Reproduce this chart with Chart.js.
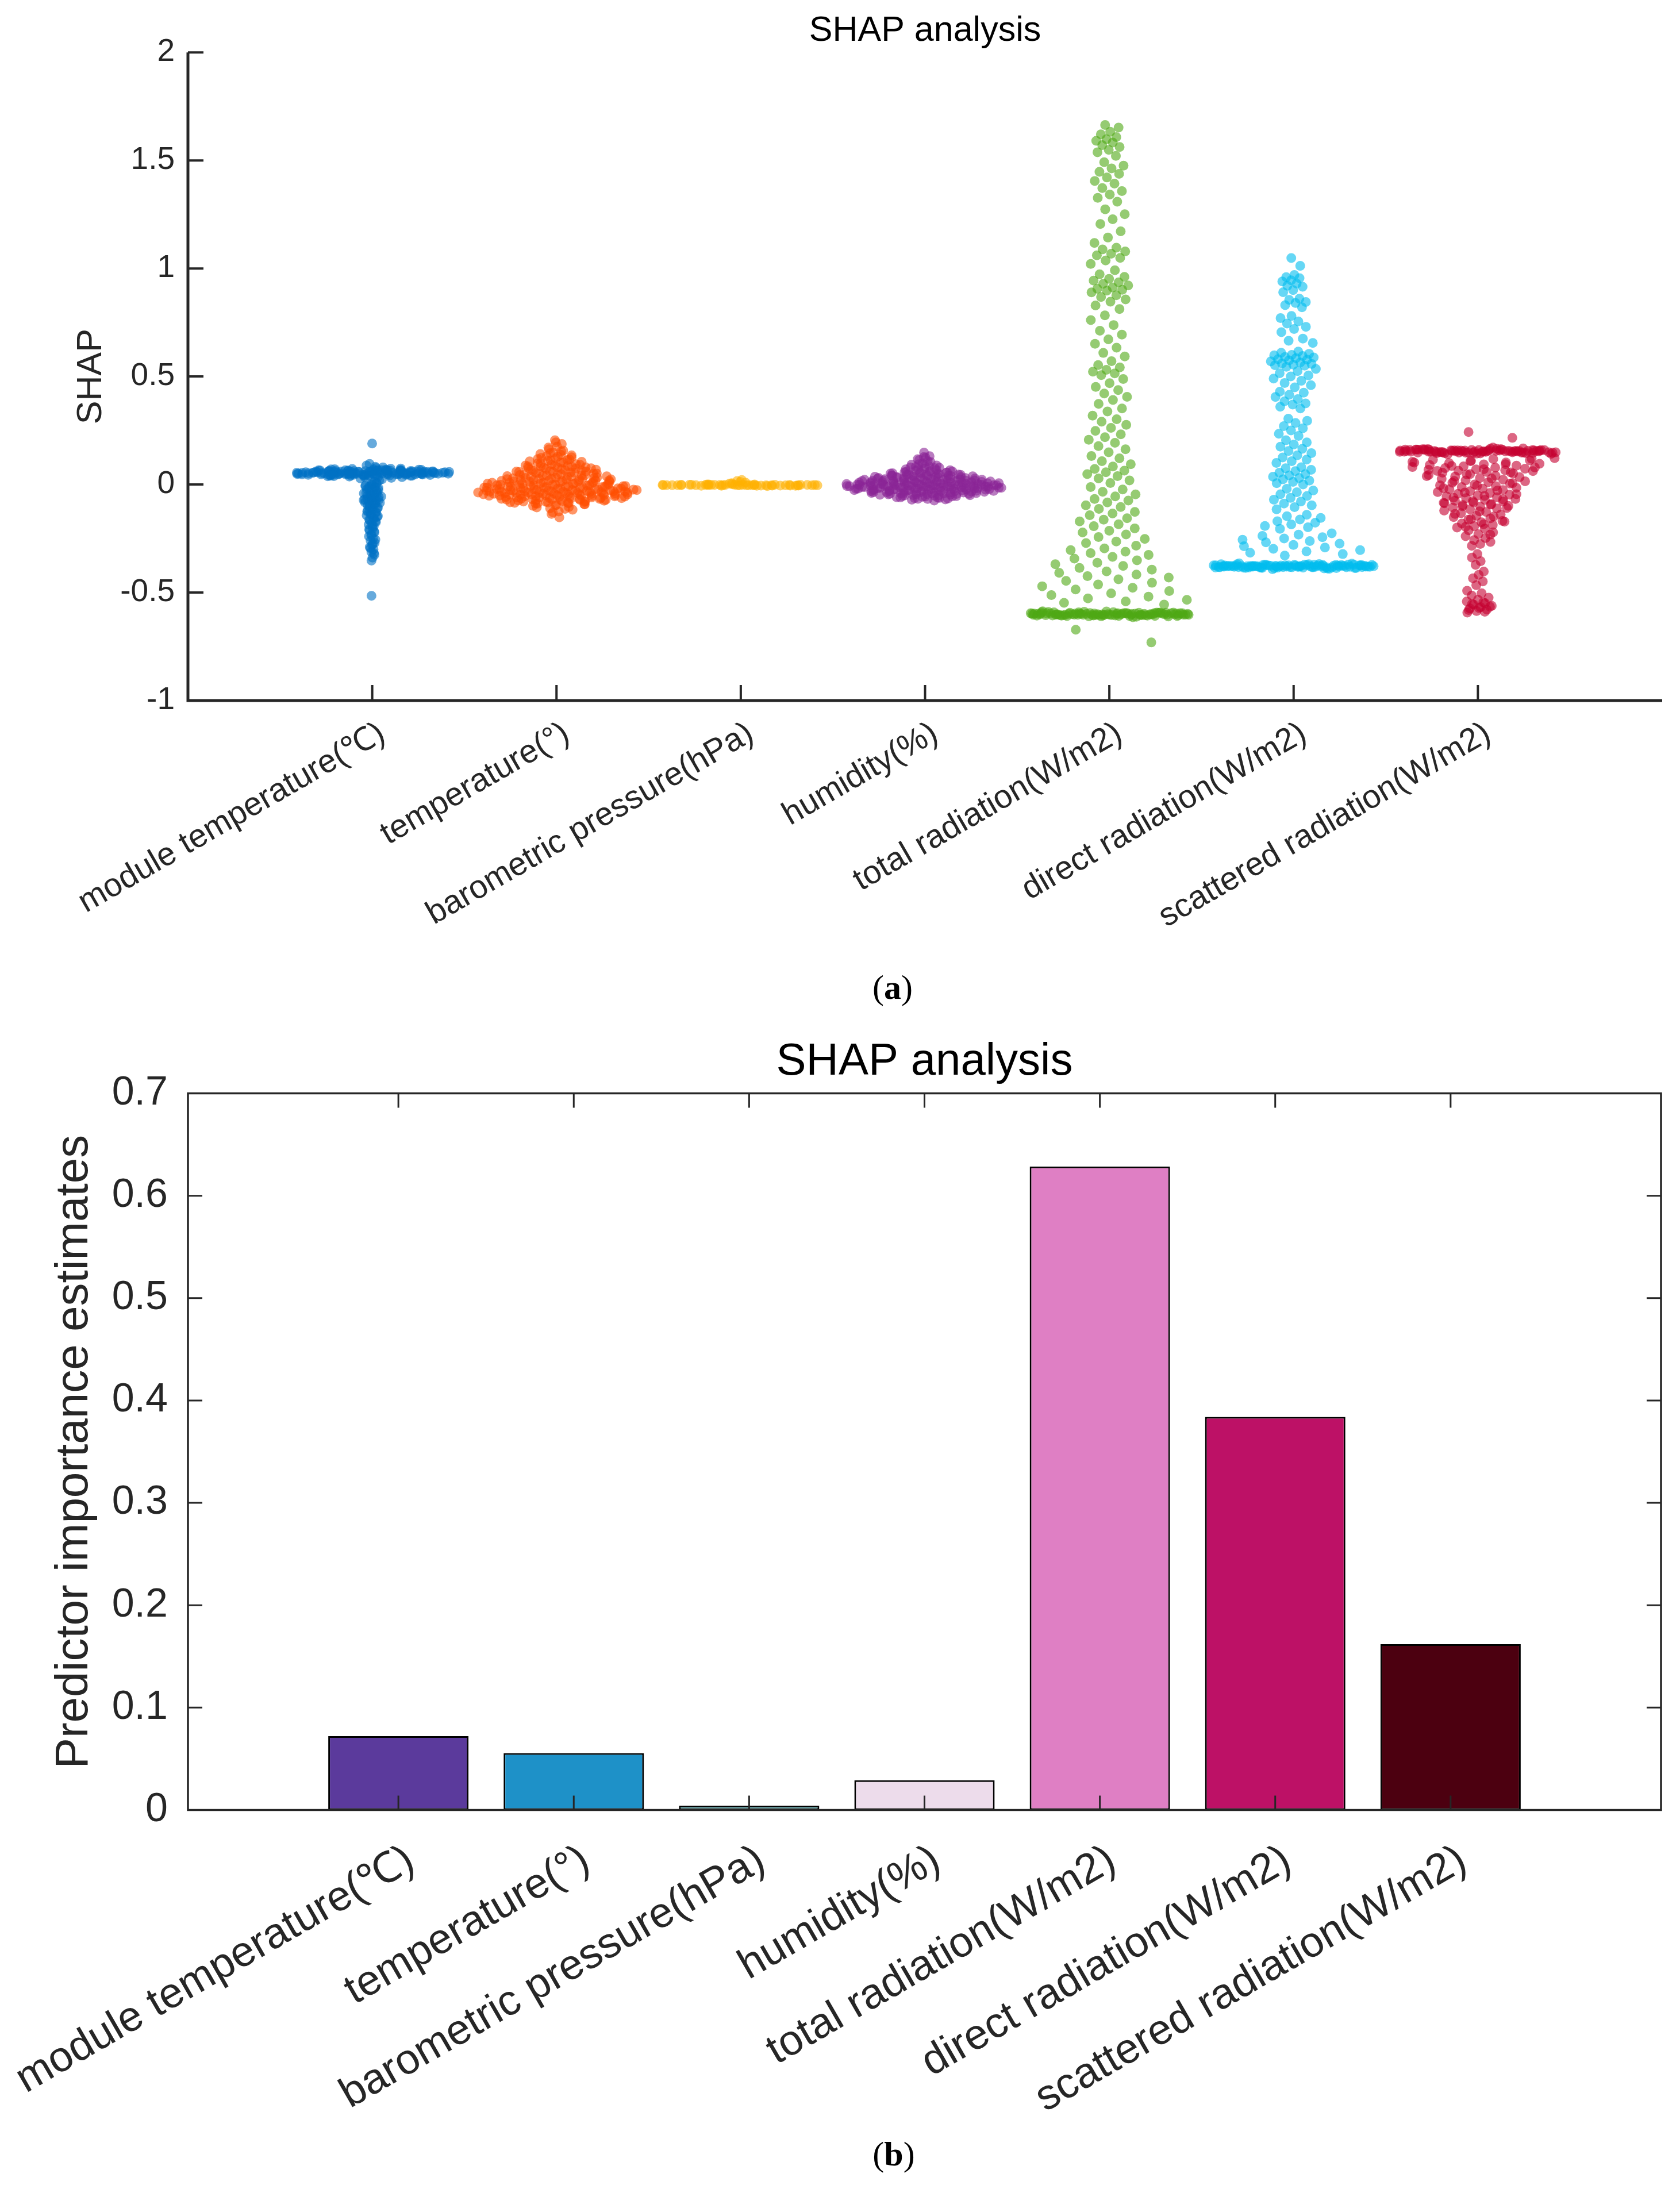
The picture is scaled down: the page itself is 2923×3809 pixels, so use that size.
<!DOCTYPE html>
<html>
<head>
<meta charset="utf-8">
<script src="https://cdn.jsdelivr.net/npm/chart.js@4.4.1/dist/chart.umd.min.js"></script>
<style>
  body { margin: 0; background: #fff; width: 2923px; height: 3809px; position: relative; overflow: hidden; }
  canvas { position: absolute; left: 0; }
  #shapSwarm { top: 0; }
  #shapBars { top: 1760px; }
  .panel-tag { position: absolute; font-family: "Liberation Serif", serif; font-size: 60px; color: #000; transform: translate(-50%, -50%); }
</style>
</head>
<body>
<canvas id="shapSwarm" width="2923" height="1650"></canvas>
<canvas id="shapBars" width="2923" height="1940"></canvas>
<div class="panel-tag" style="left:1553px; top:1718px">(<b>a</b>)</div>
<div class="panel-tag" style="left:1555px; top:3748px">(<b>b</b>)</div>
<script>
// feature names (x categories of both panels)
var features = ["module temperature(℃)", "temperature(°)", "barometric pressure(hPa)", "humidity(%)",
                "total radiation(W/m2)", "direct radiation(W/m2)", "scattered radiation(W/m2)"];

// SHAP values per sample
var shapModuleTemp = [
  0.052,0.061,0.043,0.057,0.068,0.035,0.049,0.055,0.072,0.046,0.058,0.039,0.064,0.051,0.044,0.076,0.053,0.06,0.041,0.066,
  0.048,0.056,0.031,0.07,0.054,0.045,0.062,0.05,0.082,0.037,0.059,0.047,0.065,0.053,0.042,0.074,0.056,0.028,0.063,0.05,
  0.045,0.069,0.058,0.04,0.055,0.088,0.048,0.061,0.034,0.067,0.052,0.057,0.044,0.071,0.05,0.06,0.024,0.064,0.047,0.079,
  0.054,0.038,0.066,0.049,0.058,0.043,0.095,0.053,0.062,0.019,
  0.051,0.063,0.047,0.058,0.055,0.042,0.066,0.053,0.049,0.06,0.057,0.045,0.069,0.052,0.059,0.048,0.062,0.054,0.046,0.065,
  0.05,0.058,0.044,0.061,0.053,0.047,0.066,0.055,0.041,0.059,0.052,0.064,0.048,0.057,0.036,0.062,0.051,0.045,0.07,0.054,
  0.049,0.06,0.043,0.056,0.073,0.05,0.058,0.046,0.063,0.053,0.039,0.057,0.061,0.048,0.055,0.067,0.044,0.052,0.059,0.05,
  0.065,0.047,0.054,0.062,0.041,0.056,0.051,0.068,0.058,0.045,
  0.008,0.003,-0.004,0.012,-0.01,-0.016,0.0,-0.022,
  -0.03,-0.036,-0.041,-0.047,-0.052,-0.058,-0.063,-0.069,-0.074,-0.08,-0.085,-0.091,-0.097,-0.034,-0.055,-0.072,-0.088,
  -0.103,-0.11,-0.117,-0.124,-0.131,-0.139,-0.146,-0.154,-0.162,-0.17,-0.178,-0.186,-0.194,-0.12,-0.15,
  -0.203,-0.212,-0.221,-0.23,-0.24,-0.25,-0.26,-0.27,-0.28,-0.29,
  -0.3,-0.312,-0.325,-0.338,-0.352,
  0.005,-0.002,-0.008,-0.013,-0.019,-0.026,-0.032,-0.039,-0.045,-0.05,-0.056,-0.061,-0.067,-0.071,-0.077,-0.083,-0.089,-0.094,
  -0.107,-0.114,-0.122,-0.128,-0.136,-0.143,-0.158,-0.166,-0.174,-0.19,-0.207,-0.218,-0.235,-0.255,-0.274,-0.295,-0.318,
  0.19,-0.515
];
var shapAirTemp = [
  0.205,0.188,0.176,0.163,0.157,0.148,0.141,0.137,0.132,0.126,0.121,0.118,0.113,0.109,0.105,0.101,
  0.098,0.094,0.093,0.088,0.086,0.083,0.08,0.079,0.076,0.074,0.072,0.069,0.066,0.063,0.061,
  0.059,0.058,0.055,0.052,0.051,0.048,0.045,0.043,0.041,0.039,0.037,0.036,0.033,0.032,0.029,0.028,0.026,0.024,0.023,0.021,
  0.019,0.018,0.017,0.015,0.013,0.012,0.01,0.009,0.007,0.005,0.004,0.002,0.001,
  -0.001,-0.002,-0.003,-0.005,-0.006,-0.008,-0.009,-0.01,-0.012,-0.013,-0.014,-0.015,-0.017,-0.018,-0.019,
  -0.021,-0.022,-0.023,-0.024,-0.025,-0.026,-0.027,-0.028,-0.029,-0.03,-0.031,-0.032,-0.033,-0.034,-0.035,-0.036,-0.037,-0.039,
  -0.04,-0.041,-0.042,-0.043,-0.044,-0.045,-0.046,-0.047,-0.048,-0.049,-0.05,-0.052,-0.053,-0.054,-0.055,-0.057,-0.058,
  -0.06,-0.061,-0.063,-0.064,-0.065,-0.067,-0.068,-0.07,-0.071,-0.073,-0.075,-0.077,-0.079,
  -0.081,-0.083,-0.085,-0.087,-0.089,-0.092,-0.095,-0.099,-0.104,-0.11,-0.117,-0.125,-0.136,-0.152,
  0.195,0.171,0.153,0.145,0.135,0.129,0.123,0.116,0.111,0.107,0.102,0.097,0.091,0.087,0.084,0.082,
  0.078,0.075,0.071,0.068,0.065,0.062,0.06,0.056,0.054,0.05,0.047,0.044,0.042,
  0.04,0.038,0.035,0.031,0.03,0.027,0.025,0.022,0.02,0.018,0.016,0.014,0.011,0.009,0.008,0.006,0.003,0.002,0.0,
  -0.001,-0.003,-0.004,-0.007,-0.008,-0.01,-0.011,-0.012,-0.014,-0.016,-0.017,-0.019,
  -0.02,-0.022,-0.023,-0.025,-0.026,-0.028,-0.029,-0.031,-0.032,-0.034,-0.035,-0.037,-0.038,-0.039,
  -0.04,-0.042,-0.043,-0.045,-0.046,-0.047,-0.049,-0.05,-0.051,-0.053,-0.055,-0.056,-0.058,
  -0.06,-0.062,-0.063,-0.066,-0.067,-0.069,-0.071,-0.072,-0.074,-0.077,
  -0.08,-0.082,-0.085,-0.088,-0.091,-0.096,-0.106,-0.113,-0.129
];
var shapPressure = [
  -0.003,-0.002,-0.004,-0.001,-0.005,-0.003,-0.002,-0.006,0.0,-0.004,-0.003,-0.001,-0.005,-0.002,-0.004,-0.003,-0.006,-0.002,0.001,-0.003,
  -0.004,-0.002,-0.005,-0.001,-0.003,-0.007,-0.002,-0.004,0.0,-0.003,-0.005,-0.001,-0.003,-0.004,-0.002,-0.006,-0.003,-0.001,-0.004,-0.002,
  -0.003,-0.005,0.0,-0.002,-0.004,-0.003,-0.001,-0.006,-0.002,-0.003,
  0.006,0.009,0.012,0.016,0.021,0.004
];
var shapHumidity = [
  0.148,0.131,0.124,0.113,0.104,0.097,0.092,0.086,0.081,0.078,0.074,0.07,0.067,0.064,0.061,
  0.059,0.057,0.055,0.054,0.051,0.049,0.047,0.046,0.044,0.042,0.041,
  0.039,0.038,0.037,0.035,0.034,0.033,0.031,0.03,0.029,0.028,0.026,0.025,0.024,0.023,0.022,0.021,
  0.019,0.019,0.018,0.017,0.016,0.015,0.014,0.013,0.012,0.011,0.01,0.009,0.008,0.007,0.006,0.005,0.005,0.004,0.003,0.002,0.001,0.0,
  -0.001,-0.001,-0.002,-0.003,-0.004,-0.004,-0.005,-0.006,-0.007,-0.007,-0.008,-0.009,-0.01,-0.011,-0.011,-0.012,-0.013,-0.014,-0.015,-0.015,-0.016,-0.017,-0.018,-0.019,-0.02,
  -0.021,-0.022,-0.022,-0.023,-0.024,-0.025,-0.026,-0.027,-0.028,-0.029,-0.03,-0.031,-0.032,-0.033,-0.034,-0.035,-0.036,-0.037,-0.038,-0.039,
  -0.041,-0.042,-0.043,-0.045,-0.046,-0.047,-0.049,-0.05,-0.052,-0.053,-0.055,-0.057,-0.059,
  -0.061,-0.063,-0.065,-0.067,-0.07,-0.074,
  0.127,0.117,0.108,0.094,0.088,0.083,0.079,0.076,0.072,0.066,0.062,
  0.058,0.056,0.053,0.052,0.05,0.048,0.045,0.043,0.04,
  0.039,0.036,0.036,0.034,0.032,0.03,0.029,0.027,0.026,0.024,0.022,0.02,
  0.019,0.018,0.017,0.016,0.014,0.013,0.012,0.011,0.01,0.008,0.007,0.006,0.004,0.003,0.002,0.001,0.0,
  -0.001,-0.002,-0.003,-0.004,-0.005,-0.006,-0.006,-0.007,-0.008,-0.009,-0.01,-0.011,-0.012,-0.013,-0.014,-0.015,-0.016,-0.017,-0.018,-0.019,
  -0.02,-0.021,-0.023,-0.024,-0.025,-0.026,-0.027,-0.028,-0.03,-0.031,-0.032,-0.033,-0.035,-0.036,-0.037,-0.039,
  -0.04,-0.041,-0.043,-0.044,-0.046,-0.048,-0.05,-0.051,-0.054,-0.056,
  -0.06,-0.062,-0.066,-0.069
];
var shapTotalRad = [
  1.664,1.652,1.633,1.621,1.608,1.598,1.591,1.583,1.571,1.562,1.549,1.538,1.521,
  1.492,1.476,1.463,1.447,1.438,1.421,1.405,1.393,1.372,1.358,1.342,1.327,1.309,
  1.274,1.251,1.228,1.206,1.172,1.143,1.118,
  1.096,1.088,1.079,1.068,1.061,1.049,1.037,1.021,
  0.992,0.973,0.961,0.952,0.944,0.936,0.929,0.921,0.912,0.906,0.901,0.897,
  0.889,0.876,0.868,0.857,0.846,0.829,0.812,0.783,0.761,0.738,0.712,
  0.694,0.672,0.651,0.633,0.609,0.593,0.571,0.553,0.542,0.531,0.522,0.514,0.506,
  0.488,0.469,0.452,0.437,0.421,0.406,0.391,0.373,0.352,0.338,0.319,0.302,
  0.291,0.276,0.262,0.248,0.232,0.219,0.207,0.193,0.178,0.163,0.149,0.132,0.121,0.108,
  0.094,0.083,0.072,0.064,0.057,0.048,0.039,0.028,0.019,0.007,
  -0.012,-0.023,-0.034,-0.046,-0.055,-0.067,-0.074,-0.083,-0.096,
  -0.104,-0.113,-0.127,-0.134,-0.142,-0.156,-0.163,-0.171,-0.184,-0.193,
  -0.203,-0.214,-0.222,-0.231,-0.243,-0.252,-0.264,-0.271,-0.283,-0.296,
  -0.304,-0.311,-0.318,-0.326,-0.335,-0.343,-0.351,-0.362,-0.369,-0.377,-0.386,-0.394,
  -0.402,-0.409,-0.417,-0.424,-0.431,-0.439,-0.446,-0.455,-0.463,-0.471,-0.478,-0.486,-0.493,
  -0.504,-0.512,-0.519,-0.527,-0.534,-0.541,-0.548,-0.556,
  -0.601,-0.597,-0.604,-0.592,-0.609,-0.599,-0.602,-0.595,-0.606,-0.598,-0.603,-0.594,-0.611,-0.6,-0.596,-0.605,-0.589,-0.602,-0.598,-0.607,
  -0.593,-0.604,-0.599,-0.612,-0.597,-0.601,-0.591,-0.606,-0.6,-0.595,-0.603,-0.598,-0.609,-0.594,-0.602,-0.587,-0.605,-0.599,-0.596,-0.608,
  -0.601,-0.593,-0.604,-0.598,-0.614,-0.6,-0.596,-0.603,-0.59,-0.607,-0.599,-0.602,-0.595,-0.605,-0.597,-0.61,-0.601,-0.594,-0.603,-0.598,
  -0.606,-0.592,-0.6,-0.604,-0.596,-0.609,-0.599,-0.602,-0.588,-0.605,
  -0.599,-0.603,-0.596,-0.601,-0.605,-0.594,-0.6,-0.607,-0.598,-0.602,-0.593,-0.604,-0.597,-0.601,-0.61,
  -0.599,-0.595,-0.603,-0.6,-0.606,-0.591,-0.602,-0.598,-0.604,-0.596,-0.601,-0.608,-0.597,-0.603,-0.599,
  -0.672,-0.731
];
var shapDirectRad = [
  1.048,1.012,0.97,0.96,0.955,0.945,0.94,0.93,0.92,0.915,0.9,0.89,
  0.86,0.855,0.845,0.84,0.83,0.82,0.78,0.77,0.755,0.745,0.73,0.72,0.705,0.675,0.665,0.655,
  0.615,0.61,0.605,0.6,0.598,0.595,0.59,0.588,0.585,0.58,0.578,0.575,0.57,0.565,0.56,0.558,0.555,0.552,0.55,0.545,
  0.535,0.525,0.515,0.505,0.5,0.49,0.48,0.47,0.46,0.45,
  0.43,0.425,0.415,0.405,0.395,0.385,0.375,0.37,0.36,0.352,
  0.305,0.295,0.285,0.27,0.26,0.25,0.235,0.225,
  0.205,0.195,0.185,0.175,0.165,0.155,0.145,0.135,0.125,0.115,0.108,0.1,
  0.08,0.075,0.068,0.062,0.055,0.048,0.042,0.036,0.03,0.024,0.018,0.012,0.006,0.0,
  -0.02,-0.028,-0.036,-0.045,-0.053,-0.062,-0.07,-0.079,-0.088,-0.096,-0.105,-0.115,
  -0.14,-0.147,-0.155,-0.162,-0.17,-0.177,-0.185,-0.192,-0.198,-0.205,
  -0.226,-0.232,-0.238,-0.244,-0.25,-0.256,-0.262,-0.268,-0.274,-0.28,-0.286,-0.292,-0.298,-0.304,-0.31,-0.316,-0.322,-0.329,
  -0.378,-0.372,-0.384,-0.375,-0.381,-0.369,-0.387,-0.377,-0.374,-0.383,-0.379,-0.366,-0.382,-0.376,-0.389,-0.373,-0.38,-0.371,-0.385,-0.377,
  -0.375,-0.383,-0.368,-0.379,-0.386,-0.374,-0.381,-0.376,-0.392,-0.372,-0.378,-0.384,-0.37,-0.38,-0.375,-0.388,-0.373,-0.382,-0.377,-0.365,
  -0.379,-0.385,-0.374,-0.381,-0.376,-0.371,-0.383,-0.378,-0.39,-0.375,-0.38,-0.373,-0.386,-0.377,-0.382,-0.369,-0.379,-0.384,-0.374,-0.381,
  -0.376,-0.372,-0.387,-0.378,-0.383,
  -0.377,-0.381,-0.374,-0.379,-0.383,-0.371,-0.376,-0.385,-0.378,-0.373,-0.38,-0.382,-0.375,-0.379,-0.387,-0.372,-0.377,-0.384,
  -0.376,-0.381,-0.369,-0.378,-0.383,-0.374,-0.38,-0.376,-0.386,-0.373,-0.379,-0.382,-0.375,-0.378,-0.384,-0.371,-0.38
];
var shapScatterRad = [
  0.243,0.216,
  0.154,0.16,0.148,0.157,0.151,0.165,0.145,0.158,0.153,0.162,0.149,0.156,0.142,0.159,0.152,0.167,0.147,0.155,0.161,0.15,
  0.157,0.144,0.163,0.153,0.158,0.149,0.171,0.155,0.146,0.16,0.152,0.156,0.14,0.159,0.151,0.164,0.148,0.154,0.162,0.157,
  0.15,0.155,0.143,0.161,0.153,0.158,0.147,0.166,0.152,0.156,0.149,0.16,0.154,0.145,0.159,0.151,0.163,0.155,0.148,0.157,
  0.156,0.151,0.159,0.147,0.162,0.153,0.158,0.149,0.155,0.161,0.145,0.157,0.152,0.164,0.15,0.154,0.16,0.148,0.156,0.153,
  0.122,0.118,0.115,0.112,0.108,0.105,0.102,0.099,0.096,0.093,0.09,0.087,0.084,0.081,0.078,0.076,0.073,0.07,0.068,0.066,0.064,0.062,
  0.058,0.055,0.051,0.048,0.044,0.04,0.037,0.034,0.03,0.026,0.022,0.019,0.015,0.011,0.008,0.004,0.0,-0.004,-0.008,-0.012,-0.015,-0.019,-0.022,-0.026,
  -0.031,-0.035,-0.039,-0.043,-0.047,-0.051,-0.055,-0.059,-0.063,-0.067,-0.071,-0.075,-0.079,-0.083,-0.087,-0.091,-0.095,-0.099,-0.103,-0.107,-0.111,-0.115,
  -0.121,-0.127,-0.133,-0.139,-0.145,-0.151,-0.157,-0.163,-0.169,-0.175,-0.181,-0.187,-0.193,-0.199,-0.204,
  -0.212,-0.221,-0.23,-0.239,-0.248,-0.257,-0.266,-0.275,-0.284,
  0.119,0.11,0.101,0.094,0.086,0.079,0.071,0.063,0.056,0.047,0.039,0.028,0.017,0.006,-0.006,-0.017,-0.028,-0.037,
  -0.045,-0.053,-0.061,-0.069,-0.077,-0.085,-0.093,-0.101,-0.109,-0.124,-0.136,-0.148,-0.16,-0.172,-0.184,-0.196,-0.232,
  -0.322,-0.338,-0.355,-0.372,-0.403,-0.418,-0.434,-0.449,-0.466,
  -0.492,-0.503,-0.514,-0.524,-0.533,-0.541,-0.549,-0.556,-0.562,-0.568,-0.574,-0.579,-0.586,-0.593,
  -0.545,-0.553,-0.566,-0.572,-0.581,-0.589
];

// predictor importance
var importance = [0.0722, 0.0556, 0.0042, 0.029, 0.6286, 0.384, 0.162];

var yTicksSwarm = [-1, -0.5, 0, 0.5, 1, 1.5, 2];
var yTicksBars = [0, 0.1, 0.2, 0.3, 0.4, 0.5, 0.6, 0.7];

var swarmSeries = [shapModuleTemp, shapAirTemp, shapPressure, shapHumidity, shapTotalRad, shapDirectRad, shapScatterRad];
var dotColors = ['rgba(0,114,196,0.6)', 'rgba(255,79,0,0.6)', 'rgba(255,177,0,0.6)', 'rgba(139,37,150,0.6)',
                 'rgba(78,169,20,0.6)', 'rgba(0,189,239,0.6)', 'rgba(196,0,48,0.6)'];
var barColors = ['#5B3A9C', '#1E91C8', '#8ED8DC', '#EDDCEB', '#DF7FC4', '#BD1166', '#4C0010'];

var FONT = "'Liberation Sans', Arial, sans-serif";
var INK = '#262626';

function median(sorted) {
  var m = sorted.length >> 1;
  return sorted.length % 2 ? sorted[m] : (sorted[m - 1] + sorted[m]) / 2;
}

// density-scaled jitter, the way a swarm chart spreads points
function swarm(values, cat) {
  var s = values.slice().sort(function(a, b) { return a - b; });
  var med = median(s);
  var mad = median(s.map(function(v) { return Math.abs(v - med); }).sort(function(a, b) { return a - b; }));
  var bw = Math.max(mad / 0.6745 * Math.pow(4 / (3 * values.length), 0.2), 0.004);
  var dens = values.map(function(y) {
    return values.reduce(function(acc, w) { var z = (y - w) / bw; return acc + Math.exp(-0.5 * z * z); }, 0);
  });
  var top = Math.max.apply(null, dens);
  return values.map(function(y, i) {
    var u = ((i * 0.6180339887 + 0.3) % 1) * 2 - 1;
    return { x: cat + 0.44 * (dens[i] / top) * u, y: y };
  });
}

// inward ticks + axis lines, drawn from the chart's own scales
var innerTicks = {
  id: 'innerTicks',
  afterDraw: function(chart, args, o) {
    var ctx = chart.ctx, a = chart.chartArea, x = chart.scales.x, y = chart.scales.y;
    ctx.save();
    ctx.strokeStyle = INK;
    ctx.lineWidth = o.tickWidth;
    ctx.beginPath();
    x.ticks.forEach(function(t) {
      var p = x.getPixelForValue(t.value);
      ctx.moveTo(p, a.bottom); ctx.lineTo(p, a.bottom - o.len);
      if (o.box) { ctx.moveTo(p, a.top); ctx.lineTo(p, a.top + o.len); }
    });
    y.ticks.forEach(function(t) {
      var p = y.getPixelForValue(t.value);
      ctx.moveTo(a.left, p); ctx.lineTo(a.left + o.len, p);
      if (o.box) { ctx.moveTo(a.right, p); ctx.lineTo(a.right - o.len, p); }
    });
    ctx.stroke();
    ctx.lineWidth = o.axisWidth;
    ctx.beginPath();
    if (o.box) {
      ctx.rect(a.left, a.top, a.right - a.left, a.bottom - a.top);
    } else {
      ctx.moveTo(a.left, a.top); ctx.lineTo(a.left, a.bottom); ctx.lineTo(a.right, a.bottom);
    }
    ctx.stroke();
    ctx.restore();
  }
};

function catTicks(scale) {
  scale.ticks = features.map(function(f, i) { return { value: i + 1 }; });
}
function fixedHeight(h) {
  return function(s) { s.height = h; s.paddingLeft = 0; s.paddingRight = 0; };
}

new Chart(document.getElementById('shapSwarm'), {
  type: 'scatter',
  data: {
    datasets: swarmSeries.map(function(vals, i) {
      return { data: swarm(vals, i + 1), backgroundColor: dotColors[i], borderWidth: 0, pointRadius: 8.5, pointHoverRadius: 8.5 };
    })
  },
  options: {
    responsive: false, animation: false, devicePixelRatio: 1,
    layout: { autoPadding: false, padding: { left: 0, right: 31, top: 0, bottom: 0 } },
    plugins: {
      legend: { display: false }, tooltip: { enabled: false },
      title: { display: true, text: 'SHAP analysis', fullSize: false, color: '#000',
               font: { family: FONT, size: 61, weight: 'normal' }, padding: { top: 18, bottom: 0 } },
      innerTicks: { len: 27, tickWidth: 4, axisWidth: 5, box: false }
    },
    scales: {
      x: {
        type: 'linear', min: 0, max: 8,
        grid: { display: false, drawTicks: false }, border: { display: false },
        afterBuildTicks: catTicks,
        afterFit: fixedHeight(431),
        ticks: { autoSkip: false, minRotation: 30, maxRotation: 30, padding: 24, labelOffset: 18, color: INK,
                 font: { family: FONT, size: 57 }, callback: function(v) { return features[v - 1]; } }
      },
      y: {
        min: -1, max: 2,
        grid: { display: false, drawTicks: false }, border: { display: false },
        afterBuildTicks: function(s) { s.ticks = yTicksSwarm.map(function(v) { return { value: v }; }); },
        afterFit: function(s) { s.width = 327; },
        ticks: { padding: 23, color: INK, font: { family: FONT, size: 55 }, callback: function(v) { return String(v); } },
        title: { display: true, text: 'SHAP', color: INK, font: { family: FONT, size: 61 }, padding: { top: 123, bottom: 0 } }
      }
    }
  },
  plugins: [innerTicks]
});

new Chart(document.getElementById('shapBars'), {
  type: 'bar',
  data: {
    datasets: [{
      data: importance.map(function(v, i) { return { x: i + 1, y: v }; }),
      backgroundColor: barColors, borderColor: '#000', borderWidth: 3, borderSkipped: false,
      barPercentage: 0.8, categoryPercentage: 1
    }]
  },
  options: {
    responsive: false, animation: false, devicePixelRatio: 1,
    layout: { autoPadding: false, padding: { left: 0, right: 33, top: 0, bottom: 0 } },
    plugins: {
      legend: { display: false }, tooltip: { enabled: false },
      title: { display: true, text: 'SHAP analysis', fullSize: false, color: '#000',
               font: { family: FONT, size: 78, weight: 'normal' }, padding: { top: 42, bottom: 7 } },
      innerTicks: { len: 25, tickWidth: 3, axisWidth: 3.5, box: true }
    },
    scales: {
      x: {
        type: 'linear', min: -0.2, max: 8.2, offset: false,
        grid: { display: false, drawTicks: false, offset: false }, border: { display: false },
        afterBuildTicks: catTicks,
        afterFit: fixedHeight(550.5),
        ticks: { autoSkip: false, minRotation: 30, maxRotation: 30, padding: 44, labelOffset: 22, color: INK,
                 font: { family: FONT, size: 74 }, callback: function(v) { return features[v - 1]; } }
      },
      y: {
        min: 0, max: 0.7,
        grid: { display: false, drawTicks: false }, border: { display: false },
        afterBuildTicks: function(s) { s.ticks = yTicksBars.map(function(v) { return { value: v }; }); },
        afterFit: function(s) { s.width = 327; },
        ticks: { padding: 35, color: INK, font: { family: FONT, size: 70 }, callback: function(v) { return String(v); } },
        title: { display: true, text: 'Predictor importance estimates', color: INK, font: { family: FONT, size: 80 }, padding: { top: 82, bottom: 0 } }
      }
    }
  },
  plugins: [innerTicks]
});
</script>
</body>
</html>
